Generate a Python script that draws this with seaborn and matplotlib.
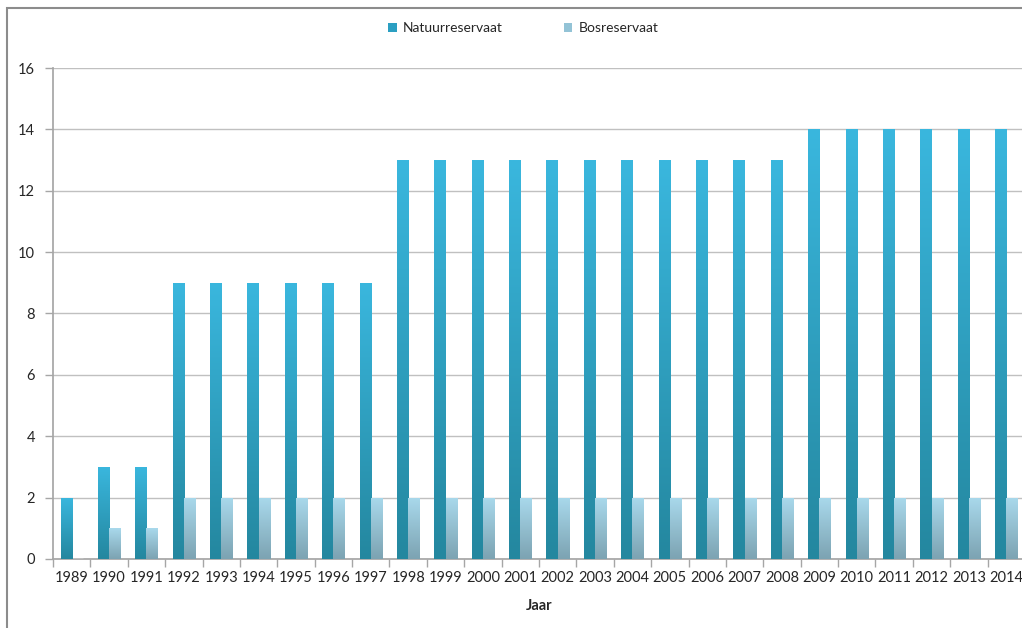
import numpy as np
import pandas as pd
import matplotlib
matplotlib.use("Agg")
import matplotlib.pyplot as plt
import seaborn as sns
from matplotlib.colors import LinearSegmentedColormap
from matplotlib.patches import Patch, Rectangle

# data
jaren = [str(j) for j in range(1989, 2015)]
natuurreservaat = [2, 3, 3, 9, 9, 9, 9, 9, 9, 13, 13, 13, 13, 13, 13, 13, 13, 13, 13, 13,
                   14, 14, 14, 14, 14, 14]
bosreservaat = [0, 1, 1, 2, 2, 2, 2, 2, 2, 2, 2, 2, 2, 2, 2, 2, 2, 2, 2, 2,
                2, 2, 2, 2, 2, 2]
reeksen = ["Natuurreservaat", "Bosreservaat"]

df = pd.DataFrame({
    "Jaar": jaren * 2,
    "Aantal": natuurreservaat + bosreservaat,
    "Type": [reeksen[0]] * len(jaren) + [reeksen[1]] * len(jaren),
})

# kleuren (boven, onder) voor de verloop-vulling
kleuren = {
    "Natuurreservaat": ("#3ab7de", "#24879f"),
    "Bosreservaat": ("#a9d9ec", "#7ca3b2"),
}
legenda_kleuren = {"Natuurreservaat": "#2b9fc2", "Bosreservaat": "#93c3d6"}

sns.set_theme(style="white")
plt.rcParams["font.family"] = ["Lato", "DejaVu Sans"]

fig = plt.figure(figsize=(10.22, 6.28), dpi=100)
ax = fig.add_axes([0.0519, 0.1099, 0.951, 0.7818])

sns.barplot(data=df, x="Jaar", y="Aantal", hue="Type", hue_order=reeksen,
            palette=[kleuren[r][0] for r in reeksen], width=0.6, dodge=True,
            errorbar=None, legend=False, ax=ax, zorder=3)

# verloop per staaf
grad = np.linspace(0, 1, 256).reshape(-1, 1)
n = len(jaren)
for i, patch in enumerate(ax.patches[:2 * n]):
    reeks = reeksen[i // n]
    x0, y0 = patch.get_x(), patch.get_y()
    w, h = patch.get_width(), patch.get_height()
    if h <= 0:
        continue
    cmap = LinearSegmentedColormap.from_list(reeks, [kleuren[reeks][1], kleuren[reeks][0]])
    im = ax.imshow(grad, extent=[x0, x0 + w, y0, y0 + h], origin="lower",
                   aspect="auto", cmap=cmap, zorder=3)
    im.set_clip_path(patch)
    patch.set_facecolor("none")
    patch.set_edgecolor("none")

ax.set_ylim(0, 16)
ax.set_xlim(-0.5, len(jaren) - 0.5)

ax.set_yticks(range(0, 17, 2))
ax.yaxis.grid(True, color="#c0c0c0", linewidth=1)
ax.set_axisbelow(True)
for kant in ["top", "right"]:
    ax.spines[kant].set_visible(False)
ax.spines["left"].set_color("#a6a6a6")
ax.spines["bottom"].set_color("#a6a6a6")

ax.set_xticks(np.arange(-0.5, len(jaren), 1), minor=True)
ax.tick_params(axis="x", which="major", length=0, pad=9, labelsize=10.5, labelcolor="#262626")
ax.tick_params(axis="x", which="minor", length=6, color="#a6a6a6", width=1, bottom=True)
ax.tick_params(axis="y", length=6, color="#a6a6a6", width=1, left=True, pad=7,
               labelsize=10.5, labelcolor="#262626")

ax.set_xlabel("Jaar", fontsize=10.5, fontweight="bold", color="#262626", labelpad=10)
ax.set_ylabel("")

handles = [Patch(facecolor=legenda_kleuren[r], edgecolor="none") for r in reeksen]
fig.legend(handles, reeksen, loc="center", bbox_to_anchor=(0.512, 0.955), ncol=2,
           frameon=False, fontsize=10, handlelength=0.6, handleheight=0.6,
           handletextpad=0.45, columnspacing=4.4, labelcolor="#262626")

# rand van het kader
fig.patches.append(Rectangle((7 / 1022, -0.1), 1.2, 1 - 8 / 628 + 0.1,
                             transform=fig.transFigure, fill=False,
                             edgecolor="#8c8c8c", linewidth=1.5))

fig.savefig("out.png", dpi=100)
